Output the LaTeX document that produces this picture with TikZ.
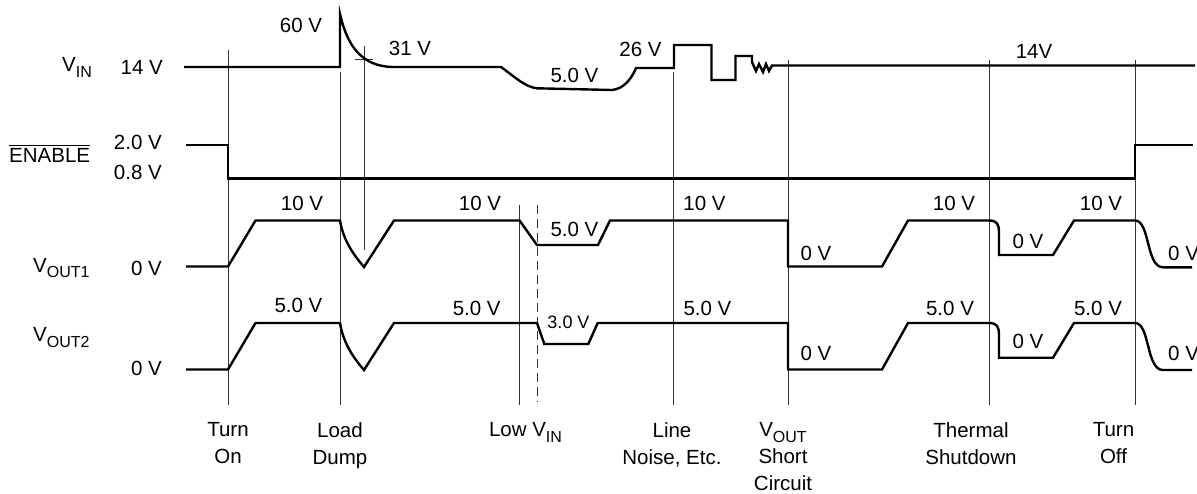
\documentclass[tikz,border=0pt]{standalone}
\usepackage{fontspec}
\setmainfont{Liberation Sans}
\newcommand{\sbs}[1]{\raisebox{-5.3pt}{\fontsize{16}{16}\selectfont #1}}
\begin{document}
\begin{tikzpicture}[x=1pt,y=-1pt,
  wave/.style={line width=2.4pt, line join=miter, line cap=butt},
  guide/.style={line width=0.9pt, black!80},
  lbl/.style={inner sep=0pt, anchor=base, font=\fontsize{20.5}{24}\selectfont},
  sm/.style={inner sep=0pt, anchor=base, font=\fontsize{18}{21}\selectfont},
  evt/.style={inner sep=0pt, anchor=north, align=center, font=\fontsize{20.5}{27}\selectfont}
]
\useasboundingbox (0,0) rectangle (1197,493);
% guide lines
\draw[guide] (228,50) -- (228,405);
\draw[guide] (340,72) -- (340,405);
\draw[guide] (364,46) -- (364,250);
\draw[guide] (355,59) -- (373,59);
\draw[guide] (519,205) -- (519,405);
\draw[guide, dash pattern=on 9pt off 5pt] (537,205) -- (537,402);
\draw[guide] (673,72) -- (673,405);
\draw[guide] (788,60) -- (788,405);
\draw[guide] (989,60) -- (989,405);
\draw[guide] (1135,60) -- (1135,405);
% VIN
\draw[wave] (184,67) -- (340,67) -- (340,14) .. controls (347,45) and (361,66) .. (392,67) -- (501,67)
  .. controls (515,77) and (525,87) .. (537,88.3) -- (612,90) .. controls (624,89) and (632,78) .. (636,68)
  -- (674,68) -- (674,45) -- (711.5,45) -- (711.5,80) -- (735.5,80) -- (735.5,56) -- (752,56) -- (752,62)
  -- (756,71) -- (759,64) -- (763,72) -- (766,64) -- (769,71) -- (772,65.5) -- (1195,65.5);
% ENABLE
\draw[wave] (185.5,145) -- (228,145) -- (228,178.3) -- (1135,178.3) -- (1135,145) -- (1193,145);
% VOUT1
\draw[wave] (186,266.5) -- (228,266.5) -- (255.5,220.5) -- (340,220.5) .. controls (343,238) and (351,252) .. (364,267)
  -- (394,220.5) -- (519.5,220.5) -- (537,245) -- (598,245) -- (610,220.5) -- (788,220.5) -- (788,266.5)
  -- (882,266.5) -- (908,220.5) -- (989,220.5) .. controls (997,220.5) and (999,224) .. (999,233)
  -- (999,255) -- (1053,255) -- (1074,220.5) -- (1135,220.5) .. controls (1150,220.5) and (1146,267.3) .. (1163,267.3)
  -- (1192,267.3);
% VOUT2
\draw[wave] (186,369.5) -- (228,369.5) -- (255.5,323) -- (340,323) .. controls (343,341) and (351,355) .. (364,370)
  -- (394,323) -- (537,323) -- (544.3,344) -- (588.3,344) -- (597.7,323) -- (788,323) -- (788,369.5)
  -- (882,369.5) -- (908,323) -- (989,323) .. controls (997,323) and (999,326.5) .. (999,335.5)
  -- (999,357.7) -- (1053,357.7) -- (1074,323) -- (1135,323) .. controls (1150,323) and (1146,370) .. (1163,370)
  -- (1192,370);
% VIN labels
\node[lbl, anchor=base west] (vin) at (62,71.7) {V\sbs{IN}};
\node[lbl, anchor=base east] (v14) at (163,74.3) {14 V};
\node[lbl] (v60) at (301,32.3) {60 V};
\node[lbl] (v31) at (410,55.7) {31 V};
\node[lbl] (v5in) at (574.5,82.3) {5.0 V};
\node[lbl] (v26) at (640.5,56.7) {26 V};
\node[lbl] (v14r) at (1034,58.3) {14V};
% ENABLE labels
\node[lbl, anchor=base west] (en) at (9,162.7) {ENABLE};
\draw[line width=0.8pt] ([yshift=2.8pt]en.north west) -- ([yshift=2.8pt]en.north east);
\node[lbl, anchor=base east] (e20) at (162,149) {2.0 V};
\node[lbl, anchor=base east] (e08) at (162,179) {0.8 V};
% VOUT1 labels
\node[lbl, anchor=base west] (vo1) at (33,272.3) {V\sbs{OUT1}};
\node[lbl, anchor=base east] (o1z) at (162,275.7) {0 V};
\node[lbl] (a1) at (302,210) {10 V};
\node[lbl] (a2) at (480,210.5) {10 V};
\node[lbl] (a3) at (574.5,236.5) {5.0 V};
\node[lbl] (a4) at (704.5,210.5) {10 V};
\node[lbl] (a5) at (816,260) {0 V};
\node[lbl] (a6) at (954,210.5) {10 V};
\node[lbl] (a7) at (1028,248.3) {0 V};
\node[lbl] (a8) at (1101,210.5) {10 V};
\node[lbl, anchor=base west] (a9) at (1168,260) {0 V};
% VOUT2 labels
\node[lbl, anchor=base west] (vo2) at (33,341.7) {V\sbs{OUT2}};
\node[lbl, anchor=base east] (o2z) at (162,375.7) {0 V};
\node[lbl] (b1) at (298.5,312.7) {5.0 V};
\node[lbl] (b2) at (476.7,315) {5.0 V};
\node[sm] (b3) at (568.5,328) {3.0 V};
\node[lbl] (b4) at (707.5,315) {5.0 V};
\node[lbl] (b5) at (816,360) {0 V};
\node[lbl] (b6) at (950,315) {5.0 V};
\node[lbl] (b7) at (1028,348.3) {0 V};
\node[lbl] (b8) at (1098,315) {5.0 V};
\node[lbl, anchor=base west] (b9) at (1168,360) {0 V};
% event labels
\node[evt] (t1) at (228,422.5) {Turn\\On};
\node[evt] (t2) at (340,422.5) {Load\\Dump};
\node[evt] (t3) at (525.5,422.5) {Low V\sbs{IN}};
\node[evt] (t4) at (672,422.5) {Line\\Noise, Etc.};
\node[evt] (t5) at (783,422.5) {V\sbs{OUT}\\Short\\Circuit};
\node[evt] (t6) at (971,422.5) {Thermal\\Shutdown};
\node[evt] (t7) at (1113.5,422.5) {Turn\\Off};
\end{tikzpicture}
\end{document}
